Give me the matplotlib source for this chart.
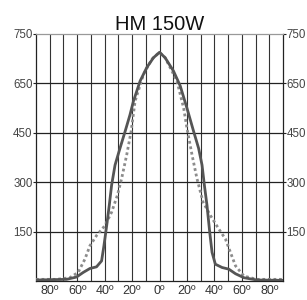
import numpy as np
import matplotlib
matplotlib.use("Agg")
import matplotlib.pyplot as plt
from matplotlib.ticker import FixedLocator

plt.rcParams['font.family'] = ['Liberation Sans', 'DejaVu Sans']

title = "HM 150W"
ytick_values = [0, 150, 300, 450, 650, 750]
xtick_labels_deg = [-80, -60, -40, -20, 0, 20, 40, 60, 80]

solid_deg = [-90, -67.8, -60.5, -55.6, -50.7, -45.9, -42.2, -40.5, -38.5, -36.6, -34.9, -32.4, -28.8,
             -25.1, -21.5, -19, -14.1, -9.3, -4.4, 0, 4.1, 10.2, 15.1, 20, 24.9, 28.5, 31, 32.7,
             34.6, 36.6, 38.3, 40.7, 45.6, 50.5, 55.4, 61.5, 71, 90]
solid_val = [3, 5, 12, 26, 38, 43, 61, 107, 168, 230, 291, 352, 403,
             455, 523, 578, 655, 682, 702, 713, 702, 675, 640, 550, 455, 403, 352, 291,
             230, 148, 87, 51, 41, 36, 22, 10, 3, 2]

dotted_deg = [-90, -75, -65.4, -59.3, -54.4, -50.7, -45.9, -39.8, -34.9, -30.7, -27.6, -23.9, -20.7,
              -17.8, -11.7, -5.6, 0, 4.1, 12.7, 17.6, 20, 23.7, 27.3, 31.7, 37.1, 43.2, 48,
              51.7, 55.4, 61.5, 71, 90]
dotted_val = [5, 5, 10, 26, 66, 107, 138, 168, 209, 260, 311, 383, 455,
              578, 668, 699, 713, 702, 655, 550, 469, 383, 311, 240, 199, 158, 128,
              87, 46, 15, 5, 5]

idx = np.arange(len(ytick_values), dtype=float)
vals = np.array(ytick_values, dtype=float)

def fwd(v):
    return np.interp(v, vals, idx)

def inv(i):
    return np.interp(i, idx, vals)

fig = plt.figure(figsize=(3.07, 3.00), dpi=100)
ax = fig.add_axes([36/307, 19/300, 247/307, 247/300])
ax.set_yscale('function', functions=(fwd, inv))

ax.plot(dotted_deg, dotted_val, color='#8c8c8c', lw=2.0, linestyle=(0, (1, 1)), zorder=3)
ax.plot(solid_deg, solid_val, color='#555555', lw=2.0, zorder=4,
        solid_joinstyle='round', solid_capstyle='round')

ax.set_xlim(-90, 90)
ax.set_ylim(0, 750)

ax.xaxis.set_major_locator(FixedLocator(xtick_labels_deg))
ax.set_xticklabels([f"{abs(d)}º" for d in xtick_labels_deg])
ax.yaxis.set_major_locator(FixedLocator(ytick_values[1:]))
ax.set_yticklabels([str(v) for v in ytick_values[1:]])
ax.yaxis.set_minor_locator(FixedLocator([]))

for v in np.arange(-80, 81, 10):
    ax.axvline(v, color='#333333', lw=0.8, zorder=1)
for v in ytick_values[1:-1]:
    ax.axhline(v, color='#222222', lw=0.9, zorder=1)

ax.tick_params(axis='x', which='both', length=0, pad=3, labelsize=9, labelcolor='#333333')
ax.tick_params(axis='y', which='major', length=2.5, width=0.8, color='#222222', pad=0,
               labelsize=8.3, labelcolor='#444444', left=True, right=True,
               labelleft=True, labelright=True)

for s in ['left', 'right', 'bottom']:
    ax.spines[s].set_color('#222222')
    ax.spines[s].set_linewidth(0.9)
ax.spines['top'].set_color('#999999')
ax.spines['top'].set_linewidth(0.9)

ax.set_title(title, fontsize=14.5, pad=3, color='#111111')

fig.savefig("out.png", dpi=100)
